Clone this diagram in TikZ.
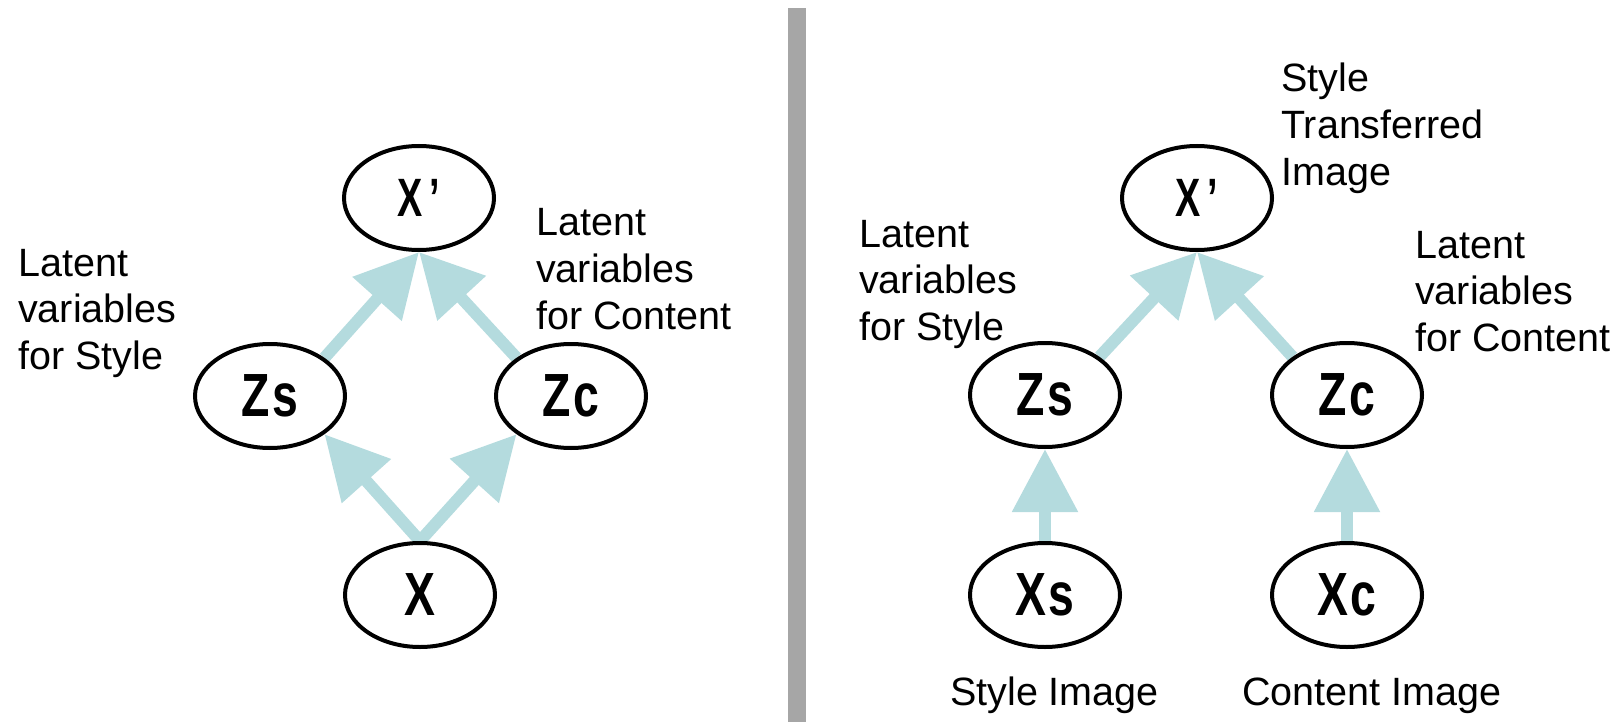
\documentclass[tikz,border=0pt]{standalone}
\usepackage{fontspec}
\setmainfont{Liberation Sans}
\newfontfamily\nodefont[FakeStretch=0.76]{Liberation Sans}
\newfontfamily\primefont[FakeStretch=0.70]{Liberation Sans}
\usetikzlibrary{arrows.meta,backgrounds,shapes.geometric}
\definecolor{arrowblue}{RGB}{180,219,222}
\definecolor{divgray}{RGB}{166,166,166}
\newcommand{\lines}[1]{\begin{tabular}[t]{@{}l@{}}#1\end{tabular}}
\begin{document}
\begin{tikzpicture}[x=1pt,y=-1pt,
  var/.style={draw=black, line width=4pt, fill=white, ellipse,
    minimum width=150pt, minimum height=104pt, inner sep=0pt,
    font=\nodefont\bfseries\fontsize{61}{61}\selectfont},
  varsmall/.style={var, font=\primefont\bfseries\fontsize{54}{54}\selectfont},
  flow/.style={draw=arrowblue, line width=12pt,
    -{Triangle[length=63pt,width=63pt]}},
  lbl/.style={anchor=base west, inner sep=0pt,
    font=\fontsize{39.5}{46.8}\selectfont}
]
\useasboundingbox (0,0) rectangle (1619,722);

% divider
\fill[divgray] (788,8) rectangle (806,722);

% left panel
\node[varsmall] (LXp) at (419,198) {X\kern7pt’};
\node[var] (LZs) at (270,396) {Z\kern2pt s};
\node[var] (LZc) at (571,396) {Z\kern2pt c};
\node[var] (LX)  at (420,595) {X};

\begin{scope}[on background layer]
\draw[flow] (LZs.north east) -- (LXp.south);
\draw[flow] (LZc.north west) -- (LXp.south);
\draw[flow] (LX.north) -- (LZs.south east);
\draw[flow] (LX.north) -- (LZc.south west);
\end{scope}

\node[lbl] (LlabS) at (18,276) {\lines{Latent\\variables\\for Style}};
\node[lbl] (LlabC) at (536,236) {\lines{Latent\\variables\\for Content}};

% right panel
\node[varsmall] (RXp) at (1197,198) {X\kern7pt’};
\node[var] (RZs) at (1045,395) {Z\kern2pt s};
\node[var] (RZc) at (1347,395) {Z\kern2pt c};
\node[var] (RXs) at (1045,595) {X\kern2pt s};
\node[var] (RXc) at (1347,595) {X\kern2pt c};

\begin{scope}[on background layer]
\draw[flow] (RZs.north east) -- (RXp.south);
\draw[flow] (RZc.north west) -- (RXp.south);
\draw[flow] (RXs.north) -- (RZs.south);
\draw[flow] (RXc.north) -- (RZc.south);
\end{scope}

\node[lbl] (RlabT) at (1281,92) {\lines{Style\\Transferred\\Image}};
\node[lbl] (RlabS) at (859,247) {\lines{Latent\\variables\\for Style}};
\node[lbl] (RlabC) at (1415,258) {\lines{Latent\\variables\\for Content}};
\node[lbl] (RlabSI) at (950,705) {Style Image};
\node[lbl] (RlabCI) at (1242,705) {Content Image};
\end{tikzpicture}
\end{document}
